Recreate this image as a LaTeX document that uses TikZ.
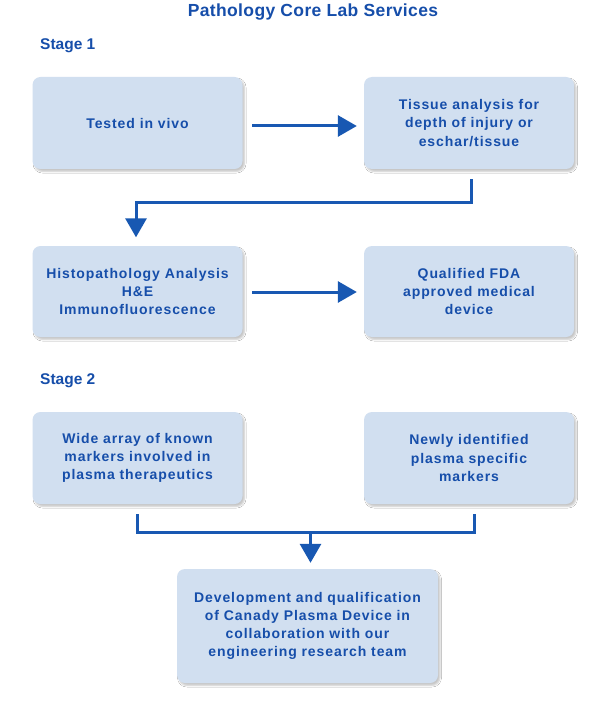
\documentclass[tikz,border=0pt]{standalone}
\usepackage{fontspec}
\setmainfont{Liberation Sans}
\newfontfamily\boxfont{Liberation Sans}[LetterSpace=6.5]
\newfontfamily\headfont{Liberation Sans}[LetterSpace=2]
\usetikzlibrary{shadows.blur,arrows.meta,calc}
\definecolor{boxfill}{RGB}{209,223,240}
\definecolor{txtblue}{RGB}{22,78,170}
\definecolor{arrblue}{RGB}{24,88,178}
\tikzset{
  box/.style={rounded corners=8pt, fill=boxfill, draw=none,
    blur shadow={shadow xshift=2pt, shadow yshift=-2.5pt, shadow blur steps=5, shadow opacity=22, shadow blur radius=1.5pt},
    text=txtblue, align=center, inner sep=0pt,
    font=\boxfont\bfseries\fontsize{14}{18.2}\selectfont},
  flow/.style={line width=3pt, draw=arrblue,
    -{Triangle[length=19pt,width=21pt]}},
  plain/.style={line width=3pt, draw=arrblue},
  heading/.style={text=txtblue, inner sep=0pt, anchor=base west,
    font=\bfseries\fontsize{15.5}{18}\selectfont},
}
\begin{document}
\begin{tikzpicture}[x=1pt,y=-1pt]
\useasboundingbox (0,0) rectangle (610,703);
\fill[white] (0,0) rectangle (610,703);

\node[text=txtblue, inner sep=0pt, anchor=base, font=\headfont\bfseries\fontsize{17.5}{20}\selectfont] (title) at (313,17) {Pathology Core Lab Services};
\node[heading] (s1) at (40,50) {Stage 1};
\node[heading] (s2) at (40,384) {Stage 2};

\node[box, minimum width=210pt, minimum height=92pt] (b1) at (137.5,123) {Tested in vivo};
\node[box, minimum width=210pt, minimum height=92pt] (b2) at (469,123) {Tissue analysis for\\depth of injury or\\eschar/tissue};
\node[box, minimum width=210pt, minimum height=91pt] (b3) at (137.5,291.5) {Histopathology Analysis\\H\&E\\Immunofluorescence};
\node[box, minimum width=210pt, minimum height=91pt] (b4) at (469,291.5) {Qualified FDA\\approved medical\\device};
\node[box, minimum width=210pt, minimum height=92pt] (b5) at (137.5,458) {Wide array of known\\markers involved in\\plasma therapeutics};
\node[box, minimum width=210pt, minimum height=92pt] (b6) at (469,458) {Newly identified\\plasma specific\\markers};
\node[box, minimum width=261pt, minimum height=114pt] (b7) at (307.5,626) {Development and qualification\\of Canady Plasma Device in\\collaboration with our\\engineering research team};

% stage 1 arrows
\draw[flow] ($(b1.east)+(9.5,3)$) -- ($(b2.west)+(-7,3)$);
\draw[flow] ($(b3.east)+(9.5,0.5)$) -- ($(b4.west)+(-7,0.5)$);
\coordinate (e1) at ($(b2.south)+(2,33)$);
\draw[flow] ($(b2.south)+(2,10)$) -- (e1) -| ($(b3.north)+(-1.5,-8.5)$);

% stage 2 merge
\coordinate (m) at ($(b7.north)+(3,-36)$);
\draw[plain] ($(b5.south)+(-0.5,10)$) |- (m) -| ($(b6.south)+(5,10)$);
\draw[flow] ([yshift=1.5pt]m) -- ($(b7.north)+(3,-6)$);
\end{tikzpicture}
\end{document}
